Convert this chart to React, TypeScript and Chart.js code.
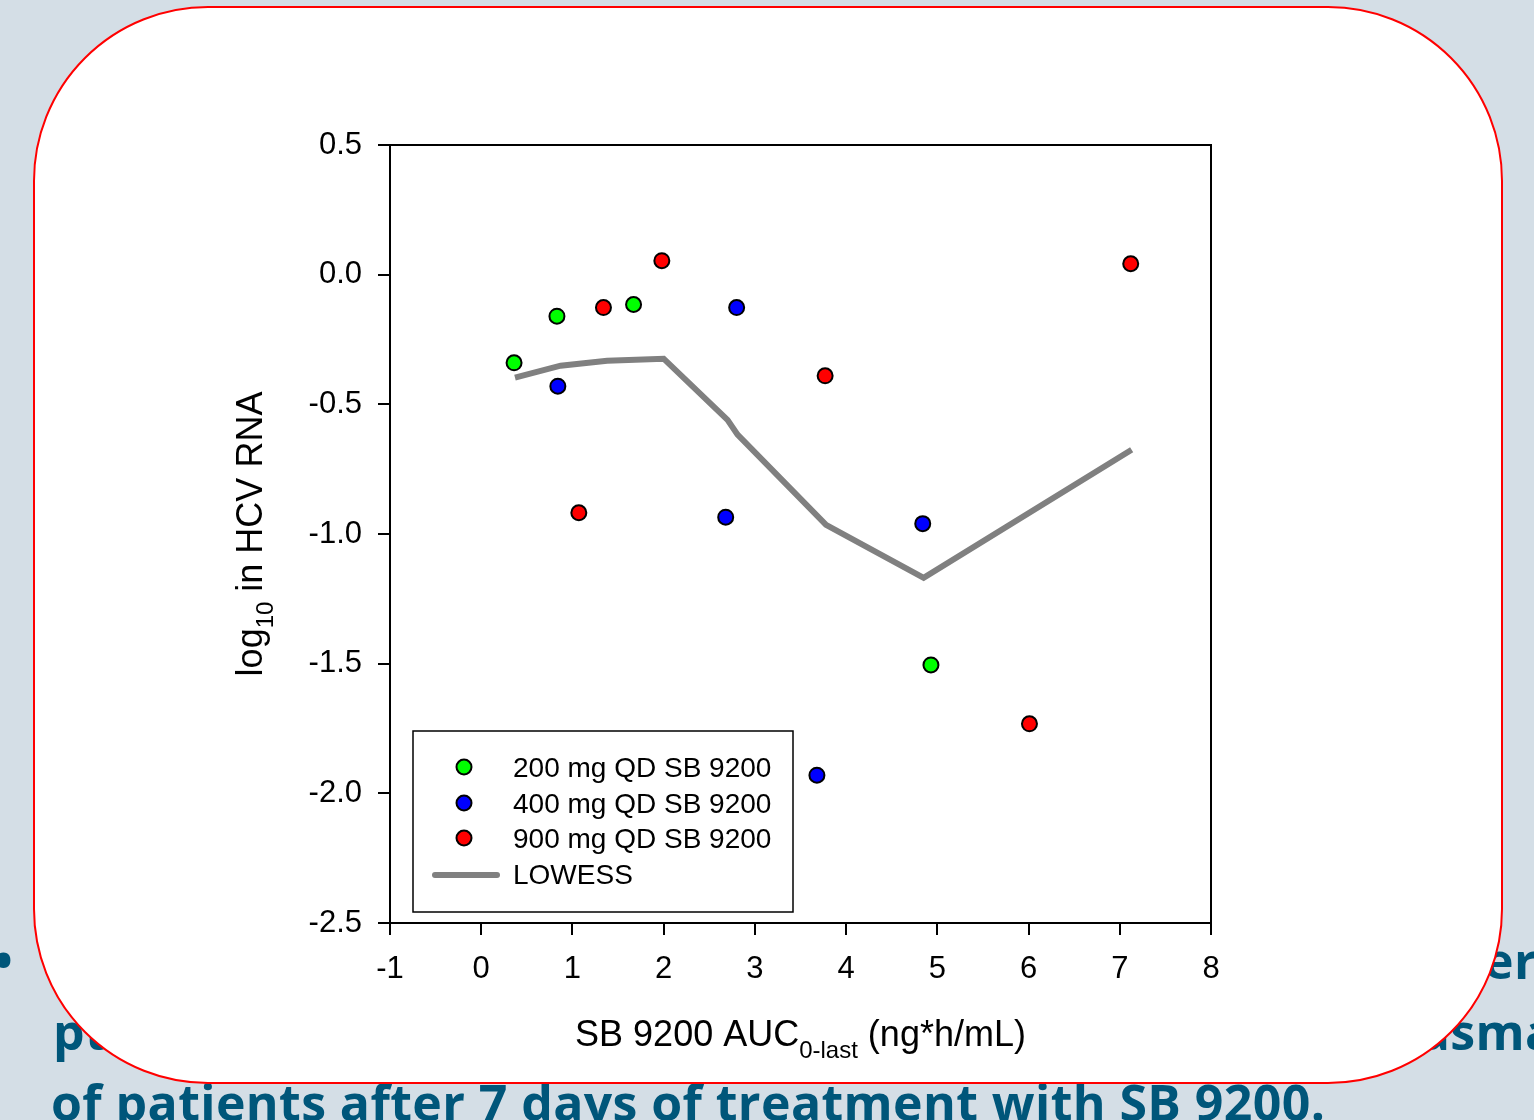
import React, { useEffect, useRef } from "react";
import { Chart, registerables } from "chart.js";

Chart.register(...registerables);

// ---- data ----
const seriesLabels = ["200 mg QD SB 9200", "400 mg QD SB 9200", "900 mg QD SB 9200"];
const seriesColors = ["#00ff00", "#0000ff", "#ff0000"];
const x200 = [0.36, 0.83, 1.67, 4.93];
const y200 = [-0.34, -0.16, -0.115, -1.505];
const x400 = [0.84, 2.8, 2.68, 4.84, 3.68];
const y400 = [-0.43, -0.127, -0.935, -0.96, -1.93];
const x900 = [1.98, 1.34, 1.07, 3.77, 6.01, 7.12];
const y900 = [0.054, -0.127, -0.918, -0.39, -1.732, 0.042];
const lowessLabel = "LOWESS";
const lowessX = [0.37, 0.87, 1.38, 2.0, 2.7, 2.81, 3.78, 4.85, 7.13];
const lowessY = [-0.397, -0.351, -0.332, -0.324, -0.56, -0.617, -0.965, -1.169, -0.675];
const xTickMin = -1;
const xTickMax = 8;
const yTickMin = -2.5;
const yTickMax = 0.5;

const FONT = "'Liberation Sans', Arial, sans-serif";

const pts = (xs: number[], ys: number[]) => xs.map((x, i) => ({ x, y: ys[i] }));

const framePlugin = {
  id: "frameAndTitles",
  afterDatasetsDraw(chart: any) {
    const { ctx, chartArea } = chart;
    const { left, right, top, bottom } = chartArea;
    ctx.save();
    // frame top/right
    ctx.strokeStyle = "#000";
    ctx.lineWidth = 2;
    ctx.beginPath();
    ctx.moveTo(left, top);
    ctx.lineTo(right, top);
    ctx.lineTo(right, bottom);
    ctx.stroke();

    // legend
    const lx = left + 23;
    const ly = bottom - 192;
    const lw = 380;
    const lh = 181;
    ctx.lineWidth = 1.5;
    ctx.strokeStyle = "#000";
    ctx.strokeRect(lx, ly, lw, lh);
    const rows = [36, 72, 107];
    ctx.font = `28px ${FONT}`;
    ctx.textBaseline = "middle";
    ctx.textAlign = "left";
    seriesLabels.forEach((lab, i) => {
      ctx.beginPath();
      ctx.arc(lx + 51, ly + rows[i], 7.5, 0, Math.PI * 2);
      ctx.fillStyle = seriesColors[i];
      ctx.fill();
      ctx.lineWidth = 2;
      ctx.strokeStyle = "#000";
      ctx.stroke();
      ctx.fillStyle = "#000";
      ctx.fillText(lab, lx + 100, ly + rows[i] + 2);
    });
    ctx.beginPath();
    ctx.lineCap = "round";
    ctx.lineWidth = 6;
    ctx.strokeStyle = "#808080";
    ctx.moveTo(lx + 22, ly + 144);
    ctx.lineTo(lx + 84, ly + 144);
    ctx.stroke();
    ctx.fillStyle = "#000";
    ctx.fillText(lowessLabel, lx + 100, ly + 145);

    // x title with subscript
    const main = `36px ${FONT}`;
    const sub = `24px ${FONT}`;
    const p1 = "SB 9200 AUC";
    const p2 = "0-last";
    const p3 = " (ng*h/mL)";
    ctx.font = main;
    const w1 = ctx.measureText(p1).width;
    const w3 = ctx.measureText(p3).width;
    ctx.font = sub;
    const w2 = ctx.measureText(p2).width;
    const total = w1 + w2 + w3;
    let x = (left + right) / 2 - total / 2;
    const by = 1046;
    ctx.textBaseline = "alphabetic";
    ctx.textAlign = "left";
    ctx.font = main;
    ctx.fillText(p1, x, by);
    x += w1;
    ctx.font = sub;
    ctx.fillText(p2, x, by + 12);
    x += w2;
    ctx.font = main;
    ctx.fillText(p3, x, by);

    // y title rotated
    const q1 = "log";
    const q2 = "10";
    const q3 = " in HCV RNA";
    ctx.font = main;
    const v1 = ctx.measureText(q1).width;
    const v3 = ctx.measureText(q3).width;
    ctx.font = sub;
    const v2 = ctx.measureText(q2).width;
    const vt = v1 + v2 + v3;
    ctx.translate(262, (top + bottom) / 2);
    ctx.rotate(-Math.PI / 2);
    let t = -vt / 2;
    ctx.font = main;
    ctx.fillText(q1, t, 0);
    t += v1;
    ctx.font = sub;
    ctx.fillText(q2, t, 11);
    t += v2;
    ctx.font = main;
    ctx.fillText(q3, t, 0);
    ctx.restore();
  },
};

function ChartCanvas() {
  const ref = useRef<HTMLCanvasElement | null>(null);
  useEffect(() => {
    if (!ref.current) return;
    const pointStyle = (c: string) => ({
      backgroundColor: c,
      borderColor: "#000",
      borderWidth: 2,
      pointRadius: 7.5,
      pointHoverRadius: 7.5,
      showLine: false,
    });
    const chart = new Chart(ref.current, {
      type: "scatter",
      data: {
        datasets: [
          {
            label: lowessLabel,
            data: pts(lowessX, lowessY),
            showLine: true,
            borderColor: "#808080",
            borderWidth: 6,
            pointRadius: 0,
            tension: 0,
            order: 2,
          } as any,
          { label: seriesLabels[0], data: pts(x200, y200), ...pointStyle(seriesColors[0]), order: 1 },
          { label: seriesLabels[1], data: pts(x400, y400), ...pointStyle(seriesColors[1]), order: 1 },
          { label: seriesLabels[2], data: pts(x900, y900), ...pointStyle(seriesColors[2]), order: 1 },
        ],
      },
      options: {
        responsive: false,
        animation: false,
        events: [],
        layout: { padding: { left: 0, top: 145, right: 323, bottom: 0 } },
        plugins: { legend: { display: false }, tooltip: { enabled: false }, title: { display: false } },
        scales: {
          x: {
            type: "linear",
            min: xTickMin,
            max: xTickMax,
            afterFit: (s: any) => {
              s.height = 197;
            },
            ticks: {
              stepSize: 1,
              color: "#000",
              font: { size: 31, family: FONT },
              padding: 16,
              maxRotation: 0,
            },
            grid: { drawOnChartArea: false, drawTicks: true, tickLength: 12, color: "#000", lineWidth: 2 },
            border: { display: true, color: "#000", width: 2 },
          },
          y: {
            type: "linear",
            min: yTickMin,
            max: yTickMax,
            afterFit: (s: any) => {
              s.width = 390;
            },
            ticks: {
              stepSize: 0.5,
              color: "#000",
              font: { size: 31, family: FONT },
              padding: 16,
              callback: (v: any) => Number(v).toFixed(1),
            },
            grid: { drawOnChartArea: false, drawTicks: true, tickLength: 12, color: "#000", lineWidth: 2 },
            border: { display: true, color: "#000", width: 2 },
          },
        },
      },
      plugins: [framePlugin],
    });
    return () => chart.destroy();
  }, []);
  return (
    <canvas
      ref={ref}
      width={1534}
      height={1120}
      style={{ position: "absolute", left: 0, top: 0, width: 1534, height: 1120, zIndex: 3 }}
    />
  );
}

export default function App() {
  const textStyle: React.CSSProperties = {
    position: "absolute",
    whiteSpace: "nowrap",
    fontFamily: "'Open Sans', sans-serif",
    fontWeight: 700,
    fontSize: 50,
    letterSpacing: "0.4px",
    lineHeight: "60px",
    color: "#00567a",
  };
  return (
    <div
      style={{
        position: "absolute",
        left: 0,
        top: 0,
        width: 1534,
        height: 1120,
        overflow: "hidden",
        background: "#d4dee6",
      }}
    >
      <div style={{ ...textStyle, left: -6, top: 930 }}>•</div>
      <div style={{ ...textStyle, left: 1484, top: 930 }}>er</div>
      <div style={{ ...textStyle, left: 53, top: 1001 }}>pt</div>
      <div style={{ ...textStyle, left: 1372, top: 1001 }}>plasma</div>
      <div style={{ ...textStyle, left: 51, top: 1072 }}>of patients after 7 days of treatment with SB 9200.</div>
      <div
        style={{
          position: "absolute",
          left: 33,
          top: 6,
          width: 1470,
          height: 1078,
          boxSizing: "border-box",
          border: "2px solid #ff0000",
          borderRadius: 175,
          background: "#ffffff",
          zIndex: 2,
        }}
      />
      <ChartCanvas />
    </div>
  );
}
